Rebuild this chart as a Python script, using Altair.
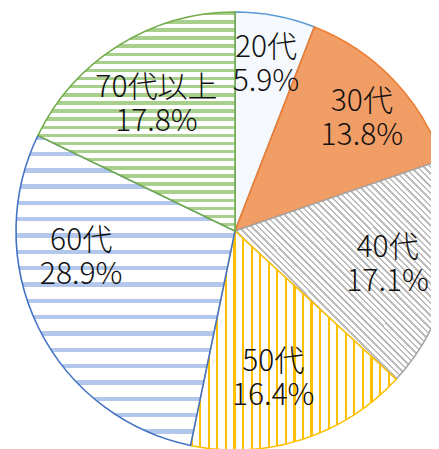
import altair as alt
import pandas as pd

# ---- data ----
categories = ["20代", "30代", "40代", "50代", "60代", "70代以上"]
shares = [5.9, 13.8, 17.1, 16.4, 28.9, 17.8]

total = sum(shares)
df = pd.DataFrame({"cat": categories, "share": shares})
df["end"] = df["share"].cumsum() / total
df["start"] = df["end"] - df["share"] / total
df["mid"] = (df["start"] + df["end"]) / 2
df["label"] = df["cat"] + "\n" + df["share"].map(lambda v: f"{v:.1f}%")

# ---- styling ----
CX, CY, R = 227, 223, 219
LH = 34  # line height of the two-line labels


def stripes(line, bg, n, duty, x1, y1, x2, y2):
    stops = []
    for i in range(n):
        a = i / n
        b = (i + duty) / n
        c = (i + 1) / n
        stops += [
            alt.GradientStop(offset=a, color=line),
            alt.GradientStop(offset=b, color=line),
            alt.GradientStop(offset=b, color=bg),
            alt.GradientStop(offset=c, color=bg),
        ]
    return alt.LinearGradient(gradient="linear", stops=stops, x1=x1, y1=y1, x2=x2, y2=y2)


styles = {
    "20代": dict(fill="#F5F9FD", stroke="#5B9BD5"),
    "30代": dict(fill="#F19D66", stroke="#ED7D31"),
    "40代": dict(fill=stripes("#BDBDBD", "#FFFFFF", 68, 0.38, 0, 1, 1, 0), stroke="#A5A5A5"),
    "50代": dict(fill=stripes("#FFC000", "#FFFFFF", 24, 0.25, 0, 0, 1, 0), stroke="#FFC000"),
    "60代": dict(fill=stripes("#B3C6EB", "#FFFFFF", 19, 0.27, 0, 0, 0, 1), stroke="#4472C4"),
    "70代以上": dict(fill=stripes("#A8CF8C", "#FFFFFF", 27, 0.42, 0, 0, 0, 1), stroke="#70AD47"),
}

label_pos = {
    "20代": dict(radius=168, dx=0, dy=-1),
    "30代": dict(radius=169, dx=5, dy=5),
    "40代": dict(radius=161, dx=-5, dy=1),
    "50代": dict(radius=154, dx=-9, dy=1),
    "60代": dict(radius=157, dx=-13, dy=-42),
    "70代以上": dict(radius=148, dx=0, dy=-1),
}

theta_scale = alt.Scale(domain=[0, 1])
base = alt.Chart(df)

arcs = []
texts = []
for c in categories:
    st = styles[c]
    arcs.append(
        base.transform_filter(alt.datum.cat == c)
        .mark_arc(radius=R, fill=st["fill"], stroke=st["stroke"], strokeWidth=1.6)
        .encode(
            theta=alt.Theta("start:Q", scale=theta_scale),
            theta2="end:Q",
            x=alt.value(CX),
            y=alt.value(CY),
        )
    )
    lp = label_pos[c]
    texts.append(
        base.transform_filter(alt.datum.cat == c)
        .mark_text(
            radius=lp["radius"], dx=lp["dx"], dy=lp["dy"] - LH / 2,
            font="Noto Sans CJK JP", fontSize=30, fontWeight=300, color="#111111",
            lineBreak="\n", lineHeight=LH, align="center", baseline="middle",
        )
        .encode(
            theta=alt.Theta("mid:Q", scale=theta_scale, stack=None),
            text="label:N",
            x=alt.value(CX),
            y=alt.value(CY),
        )
    )

chart = (
    alt.layer(*arcs, *texts)
    .properties(width=423, height=441, padding=0, autosize="none", background="white")
    .configure_view(stroke=None)
)

chart.save("out.html", embed_options={"renderer": "svg", "actions": False})
